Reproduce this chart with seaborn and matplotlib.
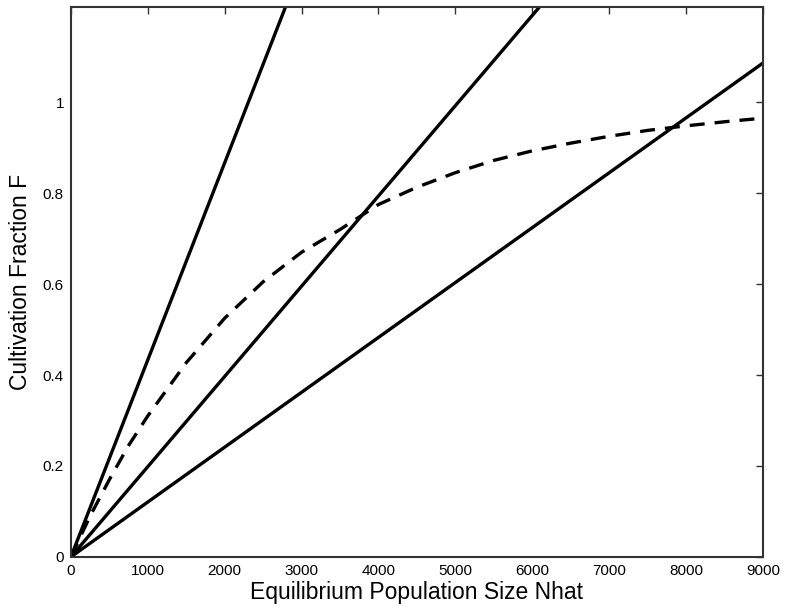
import matplotlib
matplotlib.use("Agg")
import matplotlib.pyplot as plt
import seaborn as sns
import pandas as pd

# Straight lines F = Nhat / K (end points at Nhat = 0 and 9000)
line_x = [0, 9000]
line_steep = [0, 3.90]
line_mid = [0, 1.786]
line_low = [0, 1.086]

# Dashed curve
curve_x = [0, 250, 500, 750, 1000, 1500, 2000, 2500, 3000, 3500, 4000, 4500,
           5000, 5500, 6000, 6500, 7000, 7500, 8000, 8500, 9000]
curve_y = [0, 0.09, 0.17, 0.245, 0.31, 0.427, 0.525, 0.605, 0.67, 0.72, 0.775,
           0.813, 0.845, 0.872, 0.893, 0.91, 0.925, 0.938, 0.948, 0.957, 0.965]

xticks = [0, 1000, 2000, 3000, 4000, 5000, 6000, 7000, 8000, 9000]
yticks = [0, 0.2, 0.4, 0.6, 0.8, 1.0]
yticklabels = ["0", "0.2", "0.4", "0.6", "0.8", "1"]

sns.set_style("white")
plt.rcParams['font.family'] = ['Liberation Sans', 'DejaVu Sans']

fig = plt.figure(figsize=(7.88, 6.14), dpi=100)
ax = fig.add_axes([0.090, 0.093, 0.878, 0.896])

for ys in (line_steep, line_mid, line_low):
    df = pd.DataFrame({"x": line_x, "y": ys})
    sns.lineplot(data=df, x="x", y="y", ax=ax, color="black", linewidth=2.4)

dfc = pd.DataFrame({"x": curve_x, "y": curve_y})
sns.lineplot(data=dfc, x="x", y="y", ax=ax, color="black", linewidth=2.4,
             linestyle=(0, (4.5, 3)))

ax.set_xlim(0, 9000)
ax.set_ylim(0, 1.21)
ax.set_xticks(xticks)
ax.set_xticklabels([str(t) for t in xticks])
ax.set_yticks(yticks)
ax.set_yticklabels(yticklabels)
ax.tick_params(direction="in", top=True, right=True, length=5, width=1,
               colors="#333333", labelsize=11, labelcolor="black", pad=5)
for s in ax.spines.values():
    s.set_color("#333333")
    s.set_linewidth(1.5)

ax.set_xlabel("Equilibrium Population Size Nhat", fontsize=16.5, labelpad=2,
              color="black")
ax.set_ylabel("Cultivation Fraction F", fontsize=16.5, labelpad=8,
              color="black")

fig.savefig("out.png", dpi=100)
